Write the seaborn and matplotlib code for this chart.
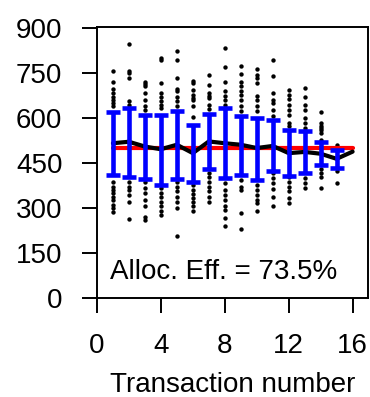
import numpy as np
import pandas as pd
import matplotlib
matplotlib.use("Agg")
import matplotlib.pyplot as plt
import seaborn as sns

# individual transaction prices per transaction number (visible points)
prices = {
    1: [759, 723, 699, 684, 670, 662, 651, 640, 386, 372, 361, 350, 339, 328, 311, 300, 289],
    2: [849, 759, 751, 735, 657, 646, 386, 372, 361, 345, 322, 263],
    3: [723, 715, 707, 684, 662, 640, 629, 386, 367, 350, 328, 308, 272, 261],
    4: [803, 796, 718, 684, 671, 657, 646, 635, 367, 350, 337, 322, 306, 292, 278],
    5: [824, 796, 735, 698, 690, 671, 657, 640, 386, 372, 356, 339, 322, 300, 207],
    6: [726, 718, 696, 679, 668, 660, 640, 606, 378, 361, 348, 333, 322, 306, 292],
    7: [746, 712, 684, 675, 668, 646, 631, 417, 406, 389, 372, 356, 339, 322],
    8: [835, 771, 723, 690, 675, 662, 646, 383, 361, 345, 328, 306, 295, 267, 242],
    9: [774, 749, 720, 707, 690, 679, 662, 640, 624, 394, 372, 361, 283, 230],
    10: [766, 746, 735, 718, 675, 662, 640, 624, 378, 361, 345, 328, 317, 291],
    11: [794, 741, 684, 662, 651, 629, 609, 417, 400, 383, 363, 339, 308],
    12: [696, 679, 664, 646, 629, 612, 584, 573, 406, 389, 372, 356, 333, 319],
    13: [701, 673, 646, 629, 601, 584, 568, 400, 383, 367],
    14: [620, 584, 576, 568, 560, 551, 529, 430, 417, 406, 369],
    15: [512, 423, 383],
}

# mean price per transaction number
mean_x = list(range(1, 17))
mean_price = [517, 522, 506, 497, 512, 484, 523, 517, 512, 501, 508, 484, 488, 482, 465, 489]

# error bar ranges
bar_x = list(range(1, 16))
bar_low = [410, 406, 398, 378, 399, 389, 430, 400, 410, 394, 426, 408, 419, 444, 434]
bar_high = [620, 634, 612, 611, 626, 579, 615, 633, 609, 601, 593, 562, 557, 521, 495]

# equilibrium price
eq_x = [1, 16]
eq_price = [500, 500]

annotation = "Alloc. Eff. = 73.5%"

sns.set_style("ticks")
plt.rcParams["font.family"] = ["Liberation Sans", "DejaVu Sans"]
plt.rcParams["text.color"] = "black"
plt.rcParams["axes.labelcolor"] = "black"
plt.rcParams["xtick.color"] = "black"
plt.rcParams["ytick.color"] = "black"

dots = pd.DataFrame(
    [(k, p) for k, vals in prices.items() for p in vals],
    columns=["transaction", "price"],
)

fig = plt.figure(figsize=(3.70, 3.97), dpi=100)
ax = fig.add_axes([0.262, 0.249, 0.732, 0.683])

sns.scatterplot(data=dots, x="transaction", y="price", ax=ax,
                color="black", s=10, linewidth=0, zorder=1)
sns.lineplot(x=eq_x, y=eq_price, ax=ax, color="#ff0000", lw=3.0, zorder=2)
sns.lineplot(x=mean_x, y=mean_price, ax=ax, color="black", lw=3.0, zorder=3)

lo = np.array(bar_low)
hi = np.array(bar_high)
mid = (lo + hi) / 2
ax.errorbar(bar_x, mid, yerr=(hi - lo) / 2, fmt="none", ecolor="#0000ff",
            elinewidth=3.3, capsize=5, capthick=3.3, zorder=4)

ax.text(0.05, 0.05, annotation, transform=ax.transAxes, fontsize=20,
        ha="left", va="bottom")

ax.set_xlim(0, 16.95)
ax.set_ylim(0, 905)
ax.set_xticks([0, 4, 8, 12, 16])
ax.set_yticks([0, 150, 300, 450, 600, 750, 900])
ax.set_xlabel("Transaction number", fontsize=20, labelpad=10)
ax.set_ylabel("")
ax.tick_params(axis="both", direction="out", length=10.8, width=1.4,
               pad=14, labelsize=20, color="black", labelcolor="black")
for s in ax.spines.values():
    s.set_visible(True)
    s.set_linewidth(1.4)
    s.set_color("black")

fig.savefig("out.png", dpi=100)
